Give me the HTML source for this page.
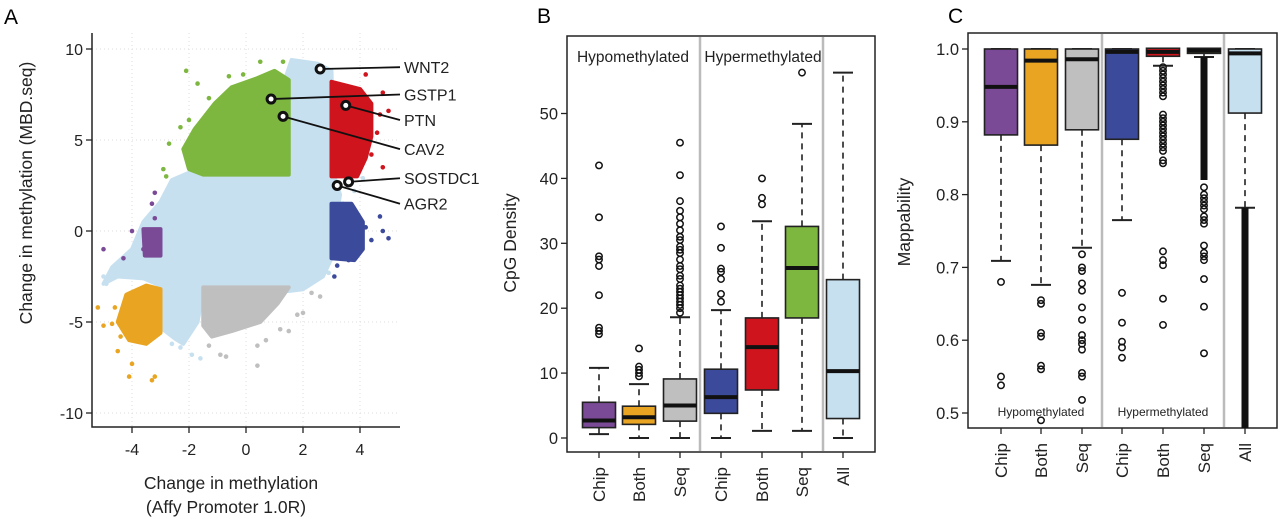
<!DOCTYPE html>
<html><head><meta charset="utf-8">
<style>
html,body{margin:0;padding:0;background:#fff;}
svg{display:block;font-family:"Liberation Sans",Arial,sans-serif;}
</style></head>
<body>
<svg id="fig" width="1280" height="519" viewBox="0 0 1280 519" xmlns="http://www.w3.org/2000/svg">
<text x="4" y="24" font-size="21">A</text>
<text x="537" y="23" font-size="21">B</text>
<text x="948" y="23" font-size="21">C</text>
<g id="pa"></g>
<g id="pb"></g>
<g id="pc"></g>
</svg>
<script>
// ---------- Panel A data ----------
const aXTicks = [-4,-2,0,2,4];
const aYTicks = [10,5,0,-5,-10];
const cloudBg = [[1.6,9.4],[2.5,9.2],[3,8.8],[3.1,3],[3.3,2],[3.1,0],[3,-1.5],[2.7,-2.5],[2,-3.2],[1.5,-3.3],[-1.5,-3.3],[-1.7,-5],[-2.2,-6.2],[-2.5,-5.9],[-3,-5.3],[-3,-3],[-3.6,-2.6],[-4.5,-2.5],[-5,-2.9],[-4.7,-2],[-4,-1],[-3.6,0.5],[-3,1.6],[-2.6,2.8],[-2,3.2],[-1,3.4],[1,3.2],[1.3,8]];
const greenPoly = [[-1.5,3.1],[1.5,3.1],[1.5,8.3],[1,8.8],[0.4,8.4],[-0.5,7.9],[-1.1,7],[-1.8,5.6],[-2.2,4.5],[-2,3.4]];
const redPoly = [[3,3],[3.9,3],[4.2,4],[4.4,5.2],[4.4,7],[4,7.8],[3,8.2]];
const bluePoly = [[3,-1.5],[3.8,-1.6],[4.1,-1],[4.1,0.5],[3.7,1.5],[3,1.5]];
const purplePoly = [[-3.55,-1.35],[-3,-1.35],[-3,0.1],[-3.6,0.1]];
const orangePoly = [[-4.2,-3.5],[-3.5,-3],[-3,-3.2],[-3,-5.6],[-3.5,-6.2],[-4.1,-6],[-4.5,-5]];
const greyPoly = [[-1.5,-3.1],[1.5,-3.1],[1.1,-4],[0.5,-5],[-0.5,-5.5],[-1.2,-5.8],[-1.5,-5.2]];
const bgPts = [[-2.4,2.8],[-3.3,-2.7],[-5.0,-2.5],[-4.6,-2.2],[-2.2,-5.7],[-1.6,-7],[-2.3,-6.4],[1.7,9.3],[2.2,9.1],[3.4,1.5],[3.8,2.2],[4.1,2.9],[2.9,-2.3],[-1.9,-6.8],[-2.6,-6.2],[-4.9,-2.9],[-4.2,-2.1]];
const greenPts = [[-2.1,8.8],[0.5,9.3],[1.3,9.3],[-2.7,4.8],[-2.9,3.4],[-2.8,3.0],[-2.3,5.7],[-1.7,8.1],[-0.6,8.5],[-0.1,8.6],[-1.3,7.3],[-2.0,6.1]];
const redPts = [[4.2,8.6],[4.8,7.6],[5.0,6.6],[4.6,5.4],[4.8,3.5],[4.4,4.2],[4.7,6.4]];
const bluePts = [[4.7,0.8],[4.8,0],[5.0,-0.4],[3.1,-2.5],[3.2,-1.9],[3.6,-1.6],[4.4,-0.5],[4.2,0.2]];
const purplePts = [[-5.0,-1.0],[-4.3,-1.5],[-4.0,0.0],[-3.2,2.1],[-3.3,1.5],[-3.2,0.7],[-3.6,-1.0]];
const orangePts = [[-5.2,-4.2],[-5.0,-5.2],[-4.7,-5.1],[-4.6,-4.2],[-4.5,-6.6],[-4.1,-8.0],[-3.3,-8.2],[-4.0,-7.3],[-3.2,-8.0],[-4.4,-5.8]];
const greyPts = [[-0.9,-6.8],[-0.7,-6.9],[0.4,-7.4],[0.4,-6.3],[1.2,-5.4],[1.5,-5.5],[1.8,-4.6],[2.0,-4.5],[2.6,-3.6],[2.3,-3.4],[-1.3,-6.3],[0.7,-6.0]];
const genes = ["WNT2","GSTP1","PTN","CAV2","SOSTDC1","AGR2"];
const geneX = [2.6,0.88,3.5,1.3,3.6,3.2];
const geneY = [8.9,7.25,6.9,6.3,2.7,2.5];
const geneLabelY = [9.0,7.5,6.1,4.5,2.9,1.5];

// ---------- Panel B data ----------
const bCats = ["Chip","Both","Seq","Chip","Both","Seq","All"];
const bYTicks = [0,10,20,30,40,50];
const bQ1 = [1.6,2.1,2.6,3.8,7.4,18.5,3.0];
const bMed = [2.7,3.2,5.0,6.3,14.0,26.2,10.3];
const bQ3 = [5.5,4.9,9.1,10.6,18.5,32.6,24.4];
const bLo = [0.6,0,0,0,1.1,1.1,0];
const bHi = [10.8,8.3,18.6,19.7,33.4,48.4,56.3];
const bOut = [
 [16,16.5,17,22,26.5,27.5,28,34,42],
 [9.5,10,10.5,11,13.8],
 [19.3,20,20.5,21,21.5,22,22.5,23,23.5,24.5,25,26,26.5,27.5,28.5,29,29.5,30.5,31,32,33,34,35,36.5,40.5,45.5],
 [21,22.2,24.5,25.6,26.1,29.3,32.6],
 [36,37,40],
 [56.3],
 []
];

// ---------- Panel C data ----------
const cCats = ["Chip","Both","Seq","Chip","Both","Seq","All"];
const cYTicks = [0.5,0.6,0.7,0.8,0.9,1.0];
const cQ1 = [0.882,0.868,0.889,0.876,0.990,0.994,0.912];
const cMed = [0.948,0.984,0.986,0.996,0.996,0.998,0.994];
const cQ3 = [1,1,1,1,1.001,1.001,1];
const cLo = [0.709,0.676,0.727,0.765,0.977,0.989,0.782];
const cHi = [1,1,1,1,1,1,1];
const cOut = [
 [0.68,0.55,0.538],
 [0.655,0.65,0.61,0.605,0.565,0.56,0.49],
 [0.718,0.70,0.695,0.678,0.668,0.645,0.628,0.607,0.60,0.595,0.587,0.555,0.55,0.518],
 [0.665,0.624,0.598,0.59,0.576],
 [0.975,0.97,0.965,0.96,0.955,0.95,0.945,0.94,0.935,0.91,0.905,0.90,0.895,0.89,0.885,0.88,0.875,0.87,0.865,0.86,0.847,0.843,0.722,0.71,0.703,0.657,0.621],
 [0.81,0.80,0.795,0.79,0.785,0.78,0.77,0.765,0.76,0.73,0.72,0.715,0.71,0.684,0.646,0.582],
 []
];
const cDense = [null,null,null,null,null,[0.82,0.989],[0.45,0.782]];

const boxColors = ["#7b4a97","#e9a521","#bfbfbf","#3c4a9c","#cf141d","#7db73f","#c6e0f0"];
const NS = "http://www.w3.org/2000/svg";
function mk(parent, tag, attrs){const e=document.createElementNS(NS,tag);for(const k in attrs)e.setAttribute(k,attrs[k]);parent.appendChild(e);return e;}

// ===== Panel A =====
(function(){
 const g=document.getElementById('pa');
 const X=v=>246+28.5*v, Y=v=>231-18.2*v;
 aXTicks.forEach(t=>{const l=mk(g,'line',{x1:X(t),x2:X(t),y1:33,y2:427,stroke:'#ddd','stroke-dasharray':'1,3'});
  });
 aYTicks.forEach(t=>{const l=mk(g,'line',{x1:92,x2:400,y1:Y(t),y2:Y(t),stroke:'#ddd','stroke-dasharray':'1,3'});
  });
 function poly(pts,col,name){const p=mk(g,'polygon',{points:pts.map(q=>X(q[0])+','+Y(q[1])).join(' '),fill:col,stroke:col,'stroke-width':4,'stroke-linejoin':'round'});
  }
 function pts(arr,col,name){arr.forEach(q=>{const c=mk(g,'circle',{cx:X(q[0]),cy:Y(q[1]),r:2.3,fill:col});
  });}
 poly(cloudBg,'#c6e0f0','background-cloud'); pts(bgPts,'#c6e0f0','background-point');
 poly(greenPoly,'#7db73f','hyper-seq-cluster'); pts(greenPts,'#7db73f','hyper-seq-point');
 poly(redPoly,'#cf141d','hyper-both-cluster'); pts(redPts,'#cf141d','hyper-both-point');
 poly(bluePoly,'#3c4a9c','hyper-chip-cluster'); pts(bluePts,'#3c4a9c','hyper-chip-point');
 poly(purplePoly,'#7b4a97','hypo-chip-cluster'); pts(purplePts,'#7b4a97','hypo-chip-point');
 poly(orangePoly,'#e9a521','hypo-both-cluster'); pts(orangePts,'#e9a521','hypo-both-point');
 poly(greyPoly,'#bfbfbf','hypo-seq-cluster'); pts(greyPts,'#bfbfbf','hypo-seq-point');
 let a=mk(g,'path',{d:'M92,33 V427 H400',fill:'none',stroke:'#222','stroke-width':1.5});
 
 aXTicks.forEach(t=>{mk(g,'line',{x1:X(t),x2:X(t),y1:427,y2:433,stroke:'#222','stroke-width':1.3});
  const tx=mk(g,'text',{x:X(t),y:455,'font-size':16,'text-anchor':'middle',fill:'#222'});tx.textContent=t;
  });
 aYTicks.forEach(t=>{mk(g,'line',{x1:86,x2:92,y1:Y(t),y2:Y(t),stroke:'#222','stroke-width':1.3});
  const tx=mk(g,'text',{x:83,y:Y(t)+6,'font-size':16,'text-anchor':'end',fill:'#222'});tx.textContent=t;
  });
 let t1=mk(g,'text',{x:231,y:489,'font-size':17.5,'text-anchor':'middle',fill:'#222'});t1.textContent='Change in methylation';
 
 let t2=mk(g,'text',{x:226,y:513,'font-size':17.5,'text-anchor':'middle',fill:'#222'});t2.textContent='(Affy Promoter 1.0R)';
 
 let t3=mk(g,'text',{x:0,y:0,'font-size':17.5,'text-anchor':'middle',fill:'#222',transform:'translate(32,193) rotate(-90)'});t3.textContent='Change in methylation (MBD.seq)';
 
 genes.forEach((n,i)=>{
  const ly=Y(geneLabelY[i]);
  const l=mk(g,'line',{x1:X(geneX[i]),y1:Y(geneY[i]),x2:400,y2:ly,stroke:'#111','stroke-width':1.8});
  
  const c=mk(g,'circle',{cx:X(geneX[i]),cy:Y(geneY[i]),r:4,fill:'#fff',stroke:'#111','stroke-width':3});
  
  const t=mk(g,'text',{x:404,y:ly+6,'font-size':16,fill:'#222'});t.textContent=n;
  
 });
})();

// ===== Box plot helper =====
function boxPanel(g,o){
 const Y=o.Y;
 mk(g,'rect',{x:o.x0,y:o.y0,width:o.x1-o.x0,height:o.y1-o.y0,fill:'none',stroke:'#222','stroke-width':1.5});
 o.dividers.forEach(d=>{const l=mk(g,'line',{x1:d,x2:d,y1:o.y0+1,y2:o.y1-1,stroke:'#bbb','stroke-width':2.5});
  });
 o.ticks.forEach(t=>{mk(g,'line',{x1:o.x0-6,x2:o.x0,y1:Y(t),y2:Y(t),stroke:'#222','stroke-width':1.3});
  const tx=mk(g,'text',{x:o.x0-9,y:Y(t)+6,'font-size':16.5,'text-anchor':'end',fill:'#222'});tx.textContent=o.fmt(t);
  });
 const hw=16.5;
 o.cats.forEach((c,i)=>{
  const cx=o.cx[i];
  mk(g,'line',{x1:cx,x2:cx,y1:o.y1,y2:o.y1+6,stroke:'#222','stroke-width':1.3});
  const tx=mk(g,'text',{x:0,y:0,'font-size':17,'text-anchor':'end',fill:'#222',transform:`translate(${cx+6},${o.y1+15}) rotate(-90)`});tx.textContent=c;
  
  const clipTop=v=>Math.max(o.y0,Math.min(o.y1,v));
  let w1=mk(g,'line',{x1:cx,x2:cx,y1:Y(o.q3[i]),y2:clipTop(Y(o.hi[i])),stroke:'#222','stroke-width':1.6,'stroke-dasharray':'6,5'});
  let w2=mk(g,'line',{x1:cx,x2:cx,y1:Y(o.q1[i]),y2:clipTop(Y(o.lo[i])),stroke:'#222','stroke-width':1.6,'stroke-dasharray':'6,5'});
  
  
  [o.hi[i],o.lo[i]].forEach(v=>{const yy=Y(v);if(yy>=o.y0&&yy<=o.y1){const cap=mk(g,'line',{x1:cx-10,x2:cx+10,y1:yy,y2:yy,stroke:'#222','stroke-width':2});
   }});
  if(o.dense&&o.dense[i]){const d=o.dense[i];const dl=mk(g,'line',{x1:cx,x2:cx,y1:clipTop(Y(d[0])),y2:clipTop(Y(d[1])),stroke:'#111','stroke-width':7});
   }
  o.out[i].forEach(v=>{const yy=Y(v);if(yy<o.y0||yy>o.y1)return;const p=mk(g,'circle',{cx:cx,cy:yy,r:3.2,fill:'none',stroke:'#111','stroke-width':1.5});
   });
  const top=Y(o.q3[i]),bot=Y(o.q1[i]);
  const b=mk(g,'rect',{x:cx-hw,y:top,width:2*hw,height:Math.max(1,bot-top),fill:o.colors[i],stroke:'#222','stroke-width':1.6});
  
  const m=mk(g,'line',{x1:cx-hw,x2:cx+hw,y1:Y(o.med[i]),y2:Y(o.med[i]),stroke:'#111','stroke-width':4});
  
 });
 o.labels.forEach(l=>{const t=mk(g,'text',{x:l[0],y:l[1],'font-size':l[2],'text-anchor':'middle',fill:'#222'});t.textContent=l[3];
  });
 const yt=mk(g,'text',{x:0,y:0,'font-size':17.5,'text-anchor':'middle',fill:'#222',transform:`translate(${o.titleX},${o.titleY}) rotate(-90)`});yt.textContent=o.title;
 
}

boxPanel(document.getElementById('pb'),{
 x0:567,x1:875,y0:36,y1:452,Y:v=>438-6.49*v,dividers:[700,823],ticks:bYTicks,fmt:t=>t,
 cats:bCats,cx:[599,639,680,721,762,802,843],q1:bQ1,q3:bQ3,med:bMed,lo:bLo,hi:bHi,out:bOut,colors:boxColors,
 labels:[[633,62,15.5,'Hypomethylated'],[763,62,15.5,'Hypermethylated']],title:'CpG Density',titleX:516,titleY:243
});
boxPanel(document.getElementById('pc'),{
 x0:968,x1:1277,y0:33,y1:428,Y:v=>49+728*(1-v),dividers:[1102,1224],ticks:cYTicks,fmt:t=>t.toFixed(1),
 cats:cCats,cx:[1001,1041,1082,1122,1163,1204,1245],q1:cQ1,q3:cQ3,med:cMed,lo:cLo,hi:cHi,out:cOut,dense:cDense,colors:boxColors,
 labels:[[1041,416,12,'Hypomethylated'],[1163,416,12,'Hypermethylated']],title:'Mappability',titleX:910,titleY:222
});
</script>
</body></html>
